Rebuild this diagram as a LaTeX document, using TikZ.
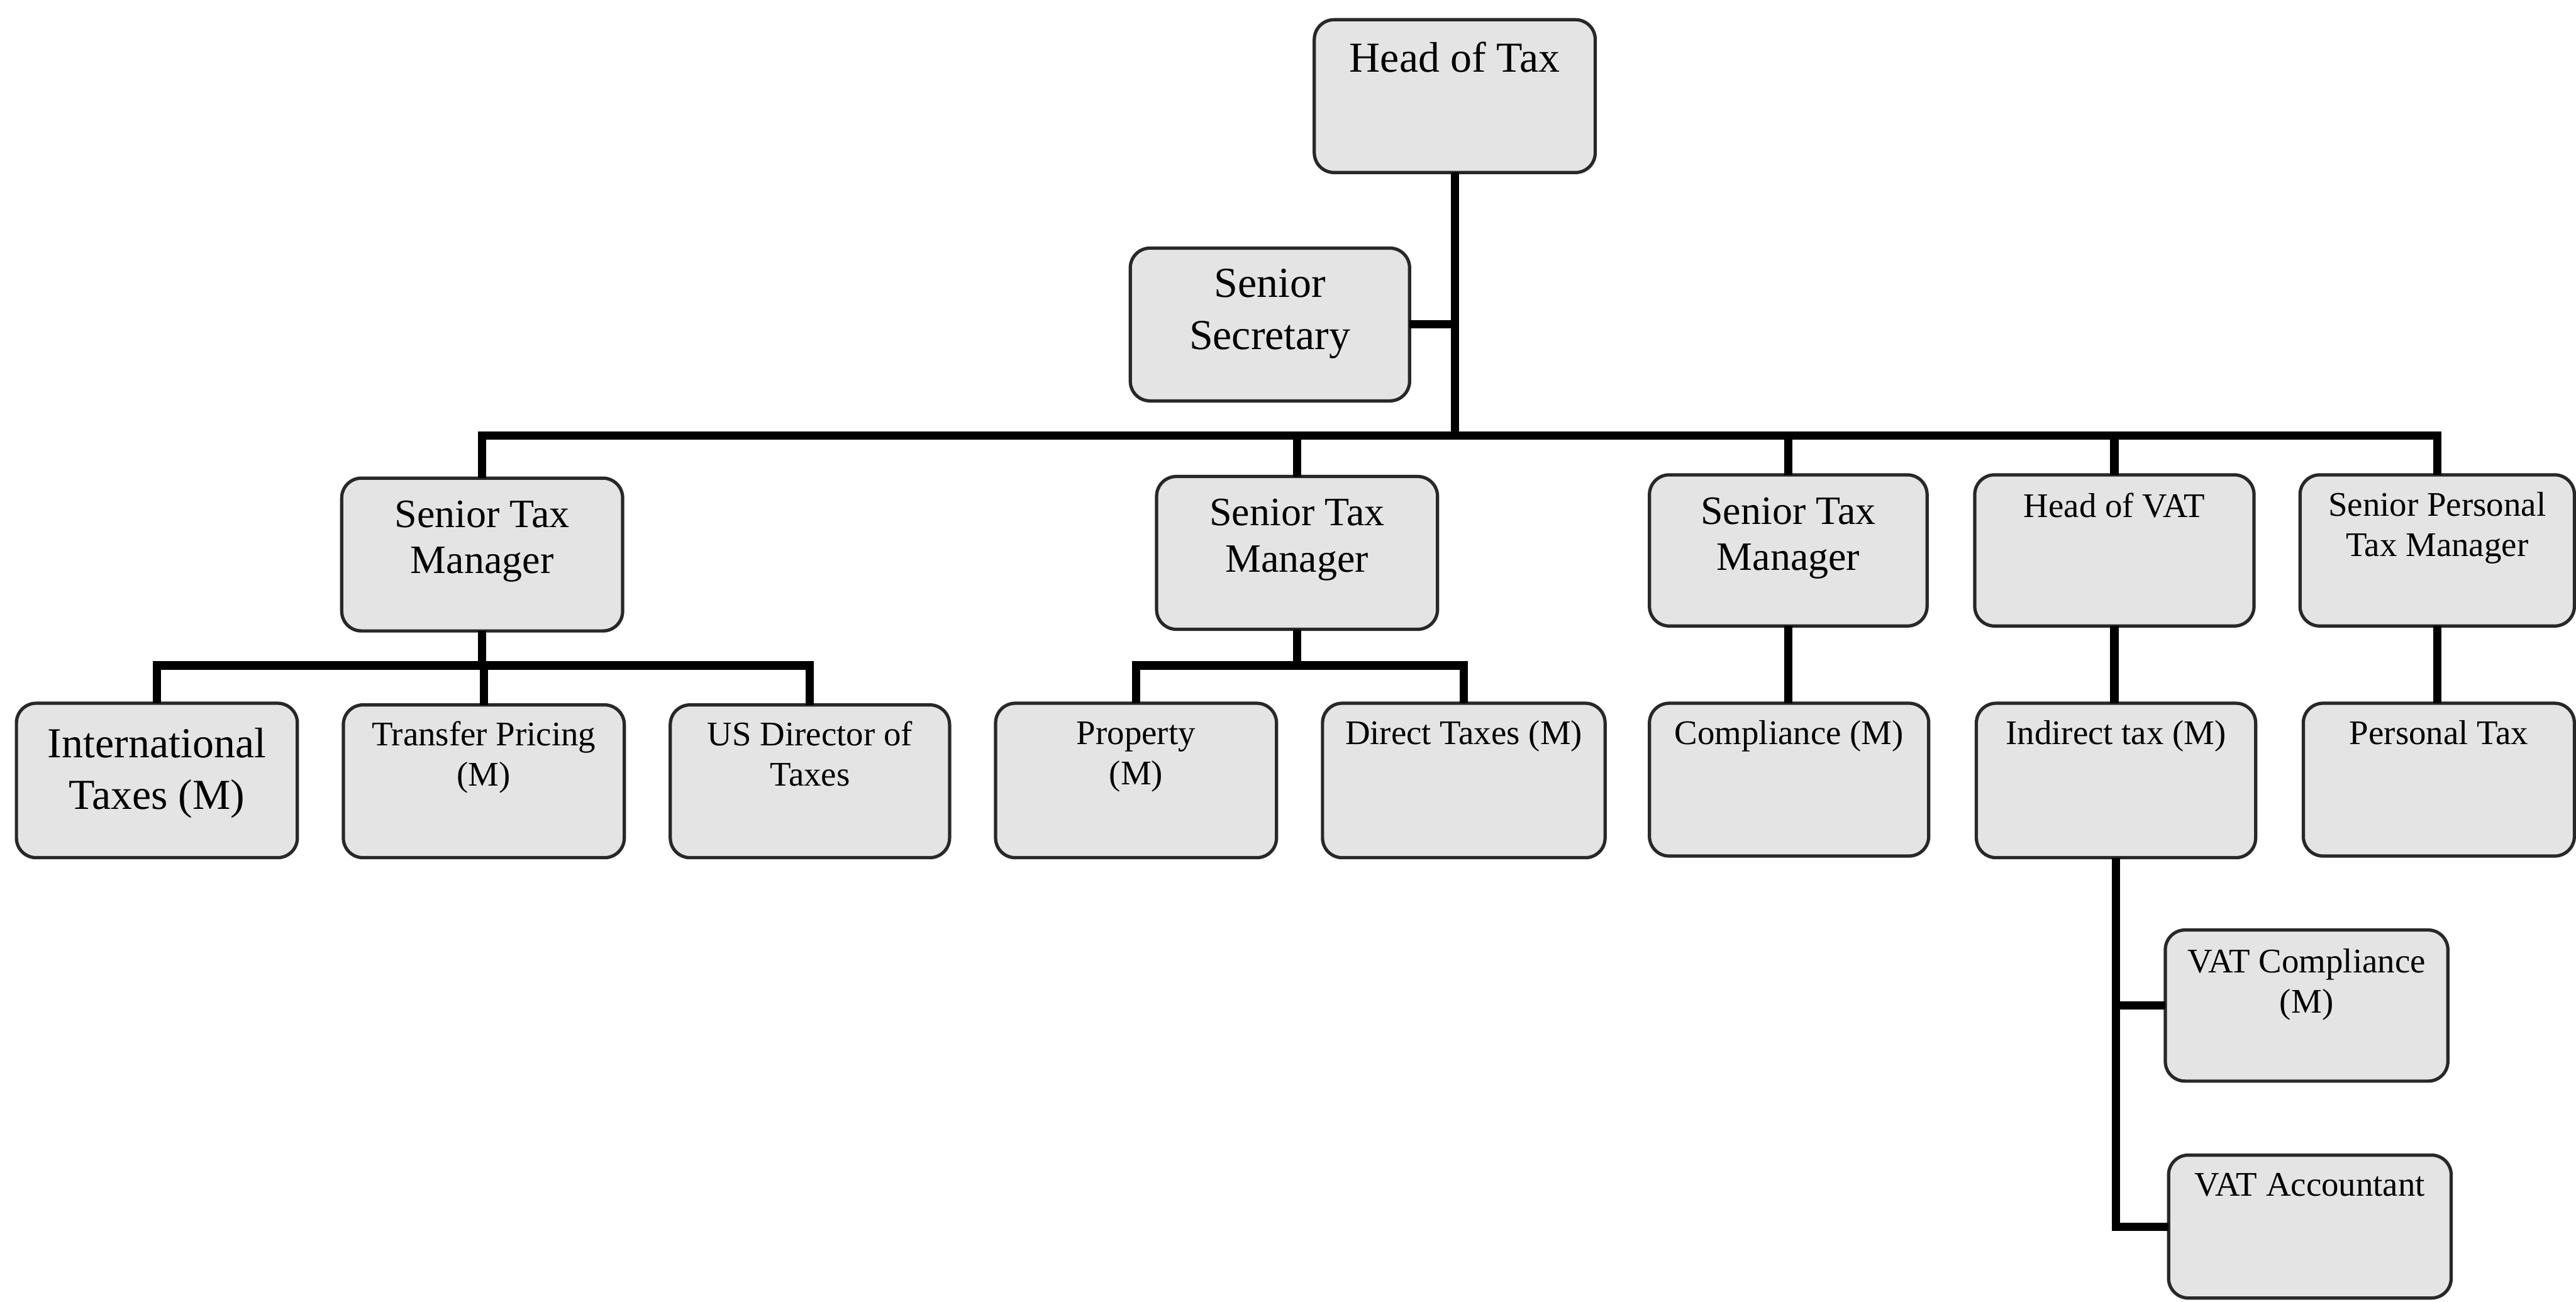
\documentclass[tikz,border=0pt]{standalone}
\usepackage{fontspec}
\setmainfont{Liberation Serif}
\definecolor{boxfill}{RGB}{228,228,228}
\definecolor{boxline}{RGB}{40,40,40}
% box text: width, height, first-baseline offset from top, text
\newcommand{\boxtxt}[4]{\parbox[c][#2][t]{#1}{\centering\rule{0pt}{#3}#4\par}}
\tikzset{
  unit/.style={draw=boxline, line width=2pt, fill=boxfill, rounded corners=12pt,
               inner sep=0pt, outer sep=0pt},
  link/.style={line width=5pt, line join=miter, draw=black},
  big/.style={font=\fontsize{26}{31.5}\selectfont},
  mid/.style={font=\fontsize{24.5}{28}\selectfont},
  small/.style={font=\fontsize{21}{24.5}\selectfont},
}
\begin{document}
\begin{tikzpicture}[x=1pt, y=-1pt]
\useasboundingbox (0,0) rectangle (1568,792.4);

% top level
\node[unit, big] (hot) at (885.5,58.5) {\boxtxt{171pt}{93pt}{32pt}{Head of Tax}};
\node[unit, big] (ss)  at (773,197.5)  {\boxtxt{170pt}{93pt}{30pt}{Senior\\Secretary}};

% second level
\node[unit, mid]   (stm1) at (293.5,337.5) {\boxtxt{171pt}{93pt}{30pt}{Senior Tax\\Manager}};
\node[unit, mid]   (stm2) at (789.5,336.5) {\boxtxt{171pt}{93pt}{30pt}{Senior Tax\\Manager}};
\node[unit, mid]   (stm3) at (1088.5,335)  {\boxtxt{169pt}{92pt}{30pt}{Senior Tax\\Manager}};
\node[unit, small] (hvat) at (1287,335)    {\boxtxt{170pt}{92pt}{26pt}{Head of VAT}};
\node[unit, small] (sptm) at (1483.5,335)  {\boxtxt{167pt}{92pt}{25pt}{Senior Personal\\Tax Manager}};

% third level
\node[unit, big]   (intl) at (95.5,475)   {\boxtxt{171pt}{94pt}{33pt}{International\\Taxes (M)}};
\node[unit, small] (tp)   at (294.5,475.5) {\boxtxt{171pt}{93pt}{25pt}{Transfer Pricing\\(M)}};
\node[unit, small] (usd)  at (493,475.5)  {\boxtxt{170pt}{93pt}{25pt}{US Director of\\Taxes}};
\node[unit, small] (prop) at (691.5,475)  {\boxtxt{171pt}{94pt}{25pt}{Property\\(M)}};
\node[unit, small] (dt)   at (891,475)    {\boxtxt{172pt}{94pt}{25pt}{Direct Taxes (M)}};
\node[unit, small] (comp) at (1089,474.5) {\boxtxt{170pt}{93pt}{25pt}{Compliance (M)}};
\node[unit, small] (ind)  at (1288,475)   {\boxtxt{170pt}{94pt}{25pt}{Indirect tax (M)}};
\node[unit, small] (pt)   at (1484.5,474.5) {\boxtxt{165pt}{93pt}{25pt}{Personal Tax}};

% VAT team
\node[unit, small] (vatc) at (1404,612)   {\boxtxt{172pt}{92pt}{26pt}{VAT Compliance\\(M)}};
\node[unit, small] (vata) at (1406,746.5) {\boxtxt{172pt}{87pt}{25pt}{VAT Accountant}};

% connectors
\path (hot.south) ++(0,160) coordinate (bus);
\draw[link] (hot.south) -- (bus);
\draw[link] (ss.east) -- (ss.east -| hot.south);
\foreach \n in {stm1,stm2,stm3,hvat,sptm}
  \draw[link] (bus) -| (\n.north);

\path (stm1.south) ++(0,21) coordinate (b1);
\draw[link] (stm1.south) -- (b1);
\foreach \n in {intl,tp,usd}
  \draw[link] (b1) -| (\n.north);

\path (stm2.south) ++(0,22) coordinate (b2);
\draw[link] (stm2.south) -- (b2);
\foreach \n in {prop,dt}
  \draw[link] (b2) -| (\n.north);

\draw[link] (stm3.south) -- (stm3.south |- comp.north);
\draw[link] (hvat.south) -- (hvat.south |- ind.north);
\draw[link] (sptm.south) -- (sptm.south |- pt.north);

\draw[link] (ind.south) |- (vatc.west);
\draw[link] (ind.south) |- (vata.west);
\end{tikzpicture}
\end{document}
